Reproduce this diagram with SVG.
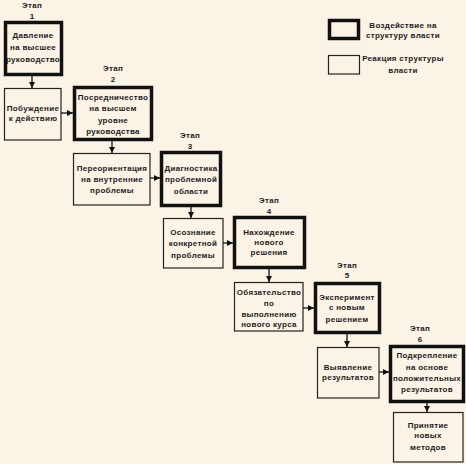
<svg xmlns="http://www.w3.org/2000/svg" width="466" height="464" viewBox="0 0 466 464">
<defs>
<style>
text{font-family:"Liberation Sans",Arial,sans-serif;font-size:8px;font-weight:bold;fill:#1c1c1c;text-anchor:middle;letter-spacing:0.3px}
.thick{fill:none;stroke:#111;stroke-width:3.5}
.thin{fill:none;stroke:#222;stroke-width:1.2}
.conn{stroke:#111;stroke-width:1.3;fill:none;marker-end:url(#ah)}
</style>
<marker id="ah" viewBox="0 0 10 10" refX="10" refY="5" markerWidth="6" markerHeight="6" markerUnits="userSpaceOnUse" orient="auto">
<path d="M0,0 L10,5 L0,10 z" fill="#111"/>
</marker>
</defs>
<rect width="466" height="464" fill="#fcf3e7"/>

<g id="legend">
<rect class="thick" x="329.5" y="20.5" width="29" height="18"/>
<text x="403" y="28">Воздействие на</text>
<text x="403" y="38">структуру власти</text>
<rect class="thin" x="328.5" y="55.5" width="31" height="18.5"/>
<text x="403" y="61">Реакция структуры</text>
<text x="403" y="73">власти</text>
</g>

<g id="stage1">
<text x="32" y="8">Этап</text>
<text x="32" y="19">1</text>
<rect class="thick" x="5.5" y="22.5" width="56" height="52"/>
<text x="33" y="38">Давление</text>
<text x="33" y="50">на высшее</text>
<text x="33" y="62">руководство</text>
</g>

<g id="r1">
<rect class="thin" x="4.5" y="88.5" width="56.5" height="51.5"/>
<text x="33" y="111">Побуждение</text>
<text x="33" y="121">к действию</text>
</g>

<g id="stage2">
<text x="113" y="71">Этап</text>
<text x="113" y="82">2</text>
<rect class="thick" x="74.5" y="87.5" width="77" height="52"/>
<text x="113" y="100">Посредничество</text>
<text x="113" y="111">на высшем</text>
<text x="113" y="123">уровне</text>
<text x="113" y="134">руководства</text>
</g>

<g id="r2">
<rect class="thin" x="73.5" y="153.5" width="76.5" height="51.5"/>
<text x="112" y="171">Переориентация</text>
<text x="112" y="182">на внутренние</text>
<text x="112" y="193">проблемы</text>
</g>

<g id="stage3">
<text x="190" y="138">Этап</text>
<text x="190" y="149">3</text>
<rect class="thick" x="161.5" y="152.5" width="59" height="53"/>
<text x="191" y="171">Диагностика</text>
<text x="191" y="182">проблемной</text>
<text x="191" y="194">области</text>
</g>

<g id="r3">
<rect class="thin" x="163.5" y="218.5" width="59.5" height="49.5"/>
<text x="193" y="235">Осознание</text>
<text x="193" y="246">конкретной</text>
<text x="193" y="258">проблемы</text>
</g>

<g id="stage4">
<text x="269" y="203">Этап</text>
<text x="269" y="214">4</text>
<rect class="thick" x="234.5" y="217.5" width="70" height="50"/>
<text x="269" y="235">Нахождение</text>
<text x="269" y="245">нового</text>
<text x="269" y="255">решения</text>
</g>

<g id="r4">
<rect class="thin" x="234.5" y="282.5" width="68.5" height="48.5"/>
<text x="269" y="295">Обязательство</text>
<text x="269" y="306">по</text>
<text x="269" y="317">выполнению</text>
<text x="269" y="327">нового курса</text>
</g>

<g id="stage5">
<text x="347" y="268">Этап</text>
<text x="347" y="278">5</text>
<rect class="thick" x="315.5" y="283.5" width="64" height="49"/>
<text x="347" y="300">Эксперимент</text>
<text x="347" y="310">с новым</text>
<text x="347" y="322">решением</text>
</g>

<g id="r5">
<rect class="thin" x="317.5" y="347.5" width="61.5" height="50.5"/>
<text x="348" y="370">Выявление</text>
<text x="348" y="380">результатов</text>
</g>

<g id="stage6">
<text x="420" y="331">Этап</text>
<text x="420" y="342">6</text>
<rect class="thick" x="390.5" y="346.5" width="73" height="55"/>
<text x="427" y="358">Подкрепление</text>
<text x="427" y="370">на основе</text>
<text x="427" y="381">положительных</text>
<text x="427" y="392">результатов</text>
</g>

<g id="r6">
<rect class="thin" x="393.5" y="412.5" width="69.5" height="49.5"/>
<text x="428" y="428">Принятие</text>
<text x="428" y="438">новых</text>
<text x="428" y="450">методов</text>
</g>

<g id="connectors">
<line class="conn" x1="32" y1="76" x2="32" y2="88"/>
<line class="conn" x1="61" y1="113" x2="73" y2="113"/>
<line class="conn" x1="112" y1="141" x2="112" y2="153"/>
<line class="conn" x1="150" y1="178" x2="160" y2="178"/>
<line class="conn" x1="191" y1="207" x2="191" y2="218"/>
<line class="conn" x1="223" y1="243" x2="233" y2="243"/>
<line class="conn" x1="269" y1="269" x2="269" y2="282"/>
<line class="conn" x1="303" y1="308" x2="314" y2="308"/>
<line class="conn" x1="347" y1="334" x2="347" y2="347"/>
<line class="conn" x1="379" y1="372" x2="389" y2="372"/>
<line class="conn" x1="427" y1="403" x2="427" y2="412"/>
</g>
</svg>
